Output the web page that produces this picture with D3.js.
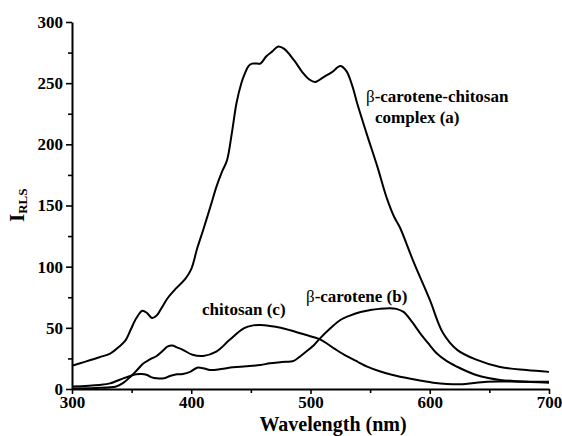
<!DOCTYPE html>
<html>
<head>
<meta charset="utf-8">
<script src="https://cdn.jsdelivr.net/npm/d3@7"></script>
<style>
  body { margin: 0; background: #fff; }
  svg text { font-family: "Liberation Serif", "Times New Roman", Times, "DejaVu Serif", serif !important; font-weight: bold; }
  svg text tspan.beta { font-weight: normal; }
</style>
</head>
<body>
<div id="chart"></div>
<script>
// Wavelength (nm) / intensity pairs
const wlA = [300, 310, 323, 332, 340, 345, 349, 354, 359, 363, 367, 371, 375, 380, 387, 395, 400, 405, 410, 417, 421, 426, 430, 434, 438, 442, 445, 448, 451, 455, 458, 463, 468, 473, 478, 486, 494, 499, 504, 511, 518, 525, 530, 535, 539, 547, 556, 564, 570, 575, 586, 600, 611, 623, 639, 659, 681, 700];
const iA  = [19, 22, 26, 29, 35, 40, 48, 58, 64, 62, 58, 60, 66, 74, 82, 90, 98, 115, 130, 152, 165, 178, 187, 209, 234, 250, 258, 264, 266, 266, 266, 272, 276, 280, 278, 269, 258, 253, 251, 255, 259, 264, 260, 248, 234, 209, 182, 156, 141, 132, 105, 73, 46, 32, 24, 18, 15.5, 14];

const wlB = [300, 323, 332, 343, 350, 354, 358, 363, 367, 371, 377, 382, 388, 393, 399, 405, 410, 416, 425, 435, 446, 458, 466, 476, 486, 491, 497, 503, 508, 516, 525, 533, 542, 550, 558, 566, 572, 578, 585, 592, 599, 606, 614, 623, 631, 639, 649, 659, 670, 680, 690, 700];
const iB  = [2, 3.3, 4.6, 8.7, 11, 12, 12.2, 11.4, 9.5, 8.7, 8.7, 10.6, 12, 12.3, 14, 17.4, 17, 15.5, 16.3, 17.7, 18.5, 19.6, 21, 22, 23, 26.4, 31, 36, 41.4, 49, 56.4, 60, 63, 64.5, 65.5, 66, 65.5, 63, 55, 45.5, 37, 29, 23, 18.2, 14.5, 11.4, 9, 7.4, 6.6, 6.2, 6, 6];

const wlC = [300, 320, 337, 343, 349, 355, 360, 365, 371, 377, 380, 384, 388, 393, 401, 410, 421, 432, 444, 452, 458, 466, 475, 483, 495, 508, 520, 530, 540, 547, 558, 569, 583, 603, 625, 648, 673, 700];
const iC  = [0.5, 0.8, 2, 5, 10, 16, 21, 24, 27, 32, 34.6, 35.5, 34, 32, 28, 27, 30.5, 40, 49.6, 52, 52.3, 51.5, 50, 48, 44.5, 40.6, 33, 27, 22, 18.5, 14.5, 11.4, 8.5, 5.2, 3.8, 6, 6, 5.2];

const xMajor = [300, 400, 500, 600, 700];
const xMinor = [350, 450, 550, 650];
const yMajor = [0, 50, 100, 150, 200, 250, 300];
const yMinor = [25, 75, 125, 175, 225, 275];

const width = 562, height = 436;
const svg = d3.select("#chart").append("svg")
    .attr("width", width)
    .attr("height", height);

const x = d3.scaleLinear().domain([300, 700]).range([72, 549]);
const y = d3.scaleLinear().domain([0, 300]).range([389, 22]);

// axes (major ticks with labels, minor ticks without)
svg.append("g").attr("transform", `translate(0,${y(0)})`)
    .call(d3.axisBottom(x).tickValues(xMajor).tickSize(5).tickSizeOuter(0).tickPadding(2).tickFormat(d3.format("d")));
svg.append("g").attr("transform", `translate(0,${y(0)})`)
    .call(d3.axisBottom(x).tickValues(xMinor).tickSize(4).tickSizeOuter(0).tickFormat(""))
    .select(".domain").remove();

svg.append("g").attr("transform", `translate(${x(300)},0)`)
    .call(d3.axisLeft(y).tickValues(yMajor).tickSize(6).tickSizeOuter(0).tickPadding(3).tickFormat(d3.format("d")));
svg.append("g").attr("transform", `translate(${x(300)},0)`)
    .call(d3.axisLeft(y).tickValues(yMinor).tickSize(4).tickSizeOuter(0).tickFormat(""))
    .select(".domain").remove();

svg.selectAll(".domain").attr("stroke", "#000").attr("stroke-width", 2);
svg.selectAll(".tick line").attr("stroke", "#000").attr("stroke-width", 1.6);
svg.selectAll(".tick text")
    .attr("font-size", 17)
    .attr("fill", "#000");

// curves
const line = d3.line()
    .x(d => x(d[0]))
    .y(d => y(d[1]))
    .curve(d3.curveCatmullRom.alpha(0.5));

[[wlA, iA], [wlB, iB], [wlC, iC]].forEach(([wl, iv]) => {
    svg.append("path")
        .datum(wl.map((w, i) => [w, iv[i]]))
        .attr("d", line)
        .attr("fill", "none")
        .attr("stroke", "#000")
        .attr("stroke-width", 2)
        .attr("stroke-linejoin", "round");
});

// labels on the curves
function label(px, py, beta, rest) {
    const t = svg.append("text")
        .attr("x", px).attr("y", py)
        .attr("font-size", 17)
        .attr("fill", "#000");
    if (beta) t.append("tspan").attr("class", "beta").text("β");
    t.append("tspan").text(rest);
}
label(366, 102, true, "-carotene-chitosan");
label(375, 123, false, "complex (a)");
label(306, 302, true, "-carotene (b)");
label(202, 315, false, "chitosan (c)");

// axis titles
svg.append("text")
    .attr("x", 333).attr("y", 431)
    .attr("text-anchor", "middle")
    .attr("font-size", 20)
    .text("Wavelength (nm)");

const yt = svg.append("text")
    .attr("transform", "translate(24,222) rotate(-90)")
    .attr("font-size", 21);
yt.append("tspan").text("I");
yt.append("tspan").attr("font-size", 13).attr("dy", 3).text("RLS");
</script>
</body>
</html>
